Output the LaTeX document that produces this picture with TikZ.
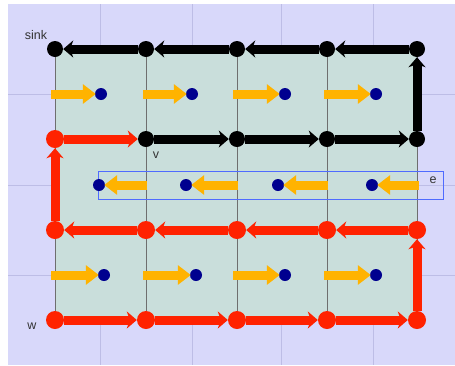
\documentclass[tikz,border=0pt]{standalone}
\usepackage{fontspec}
\setsansfont{Liberation Sans}
\usetikzlibrary{arrows.meta}
\definecolor{lav}{HTML}{D8D8FA}
\definecolor{lavline}{HTML}{BDBDE6}
\definecolor{cellfill}{HTML}{C9DEDB}
\definecolor{gridgray}{HTML}{6E6E6E}
\definecolor{redp}{HTML}{FF2200}
\definecolor{yel}{HTML}{FFB300}
\definecolor{navy}{HTML}{00008F}
\definecolor{rectblue}{HTML}{4F6BFF}
\definecolor{labc}{HTML}{333333}
\tikzset{
  bvert/.style={circle,fill=black,inner sep=0pt,minimum size=16pt},
  rvert/.style={circle,fill=redp,inner sep=0pt,minimum size=18pt},
  bpath/.style={draw=black,line width=9pt,-{Stealth[length=10pt,width=17pt,inset=3pt]}},
  rpath/.style={draw=redp,line width=9pt,-{Stealth[length=10pt,width=17pt,inset=3pt]}},
  dot/.style={circle,fill=navy,inner sep=0pt,minimum size=12pt},
  yarrow/.style={draw=yel,line width=9pt,-{Triangle[length=13pt,width=19pt]},shorten >=-1pt},
  lab/.style={font=\sffamily\fontsize{12.5}{14}\selectfont,text=labc,inner sep=0pt}
}
\begin{document}
\begin{tikzpicture}[x=1pt,y=-1pt]
\useasboundingbox (0,0) rectangle (455,365);
\fill[white] (0,0) rectangle (455,365);
\fill[lav] (8,4) rectangle (455,365);
% faint background grid
\foreach \xx in {100,192,281,373} \draw[lavline,line width=0.8pt] (\xx,4) -- (\xx,365);
\foreach \yy in {94,185,275} \draw[lavline,line width=0.8pt] (8,\yy) -- (455,\yy);
% cells
\fill[cellfill] (55,49) rectangle (417,320);
\foreach \xx in {55,146,237,327,417} \draw[gridgray,line width=0.9pt] (\xx,49) -- (\xx,320);
% e rectangle
\draw[rectblue,line width=0.8pt] (98,171) rectangle (443,199);
% dots
\foreach \xx [count=\i] in {101,192,285,376} \node[dot] (da\i) at (\xx,94) {};
\foreach \xx [count=\i] in {99,186,278,372} \node[dot] (db\i) at (\xx,185) {};
\foreach \xx [count=\i] in {104,196,285,376} \node[dot] (dc\i) at (\xx,275) {};
% arrow tails
\foreach \xx [count=\i] in {51,143,233,324} \coordinate (ta\i) at (\xx,94);
\foreach \xx [count=\i] in {51,143,233,324} \coordinate (tc\i) at (\xx,275);
\foreach \xx [count=\i] in {147,238,328,419} \coordinate (tb\i) at (\xx,185);
\foreach \i in {1,...,4} {
  \draw[yarrow] (ta\i) -- (da\i);
  \draw[yarrow] (tb\i) -- (db\i);
  \draw[yarrow] (tc\i) -- (dc\i);
}
% vertices
\foreach \xx [count=\c from 0] in {55,146,237,327,417} {
  \node[bvert] (p\c-0) at (\xx,49) {};
}
\foreach \xx [count=\c from 1] in {146,237,327,417} {
  \node[bvert] (p\c-1) at (\xx,139) {};
}
\node[rvert] (p0-1) at (55,139) {};
\foreach \xx [count=\c from 0] in {55,146,237,327,417} {
  \node[rvert] (p\c-2) at (\xx,230) {};
  \node[rvert] (p\c-3) at (\xx,320) {};
}
% black path: v -> ... -> sink
\draw[bpath] (p1-1) -- (p2-1);
\draw[bpath] (p2-1) -- (p3-1);
\draw[bpath] (p3-1) -- (p4-1);
\draw[bpath] (p4-1) -- (p4-0);
\draw[bpath] (p4-0) -- (p3-0);
\draw[bpath] (p3-0) -- (p2-0);
\draw[bpath] (p2-0) -- (p1-0);
\draw[bpath] (p1-0) -- (p0-0);
% red path: w -> ... -> v
\draw[rpath] (p0-3) -- (p1-3);
\draw[rpath] (p1-3) -- (p2-3);
\draw[rpath] (p2-3) -- (p3-3);
\draw[rpath] (p3-3) -- (p4-3);
\draw[rpath] (p4-3) -- (p4-2);
\draw[rpath] (p4-2) -- (p3-2);
\draw[rpath] (p3-2) -- (p2-2);
\draw[rpath] (p2-2) -- (p1-2);
\draw[rpath] (p1-2) -- (p0-2);
\draw[rpath] (p0-2) -- (p0-1);
\draw[rpath] (p0-1) -- (p1-1);
% labels
\node[lab] (lsink) at (36,35) {sink};
\node[lab] (lv) at (156,155) {v};
\node[lab] (lw) at (32,326) {w};
\node[lab] (le) at (433,180) {e};
\end{tikzpicture}
\end{document}
